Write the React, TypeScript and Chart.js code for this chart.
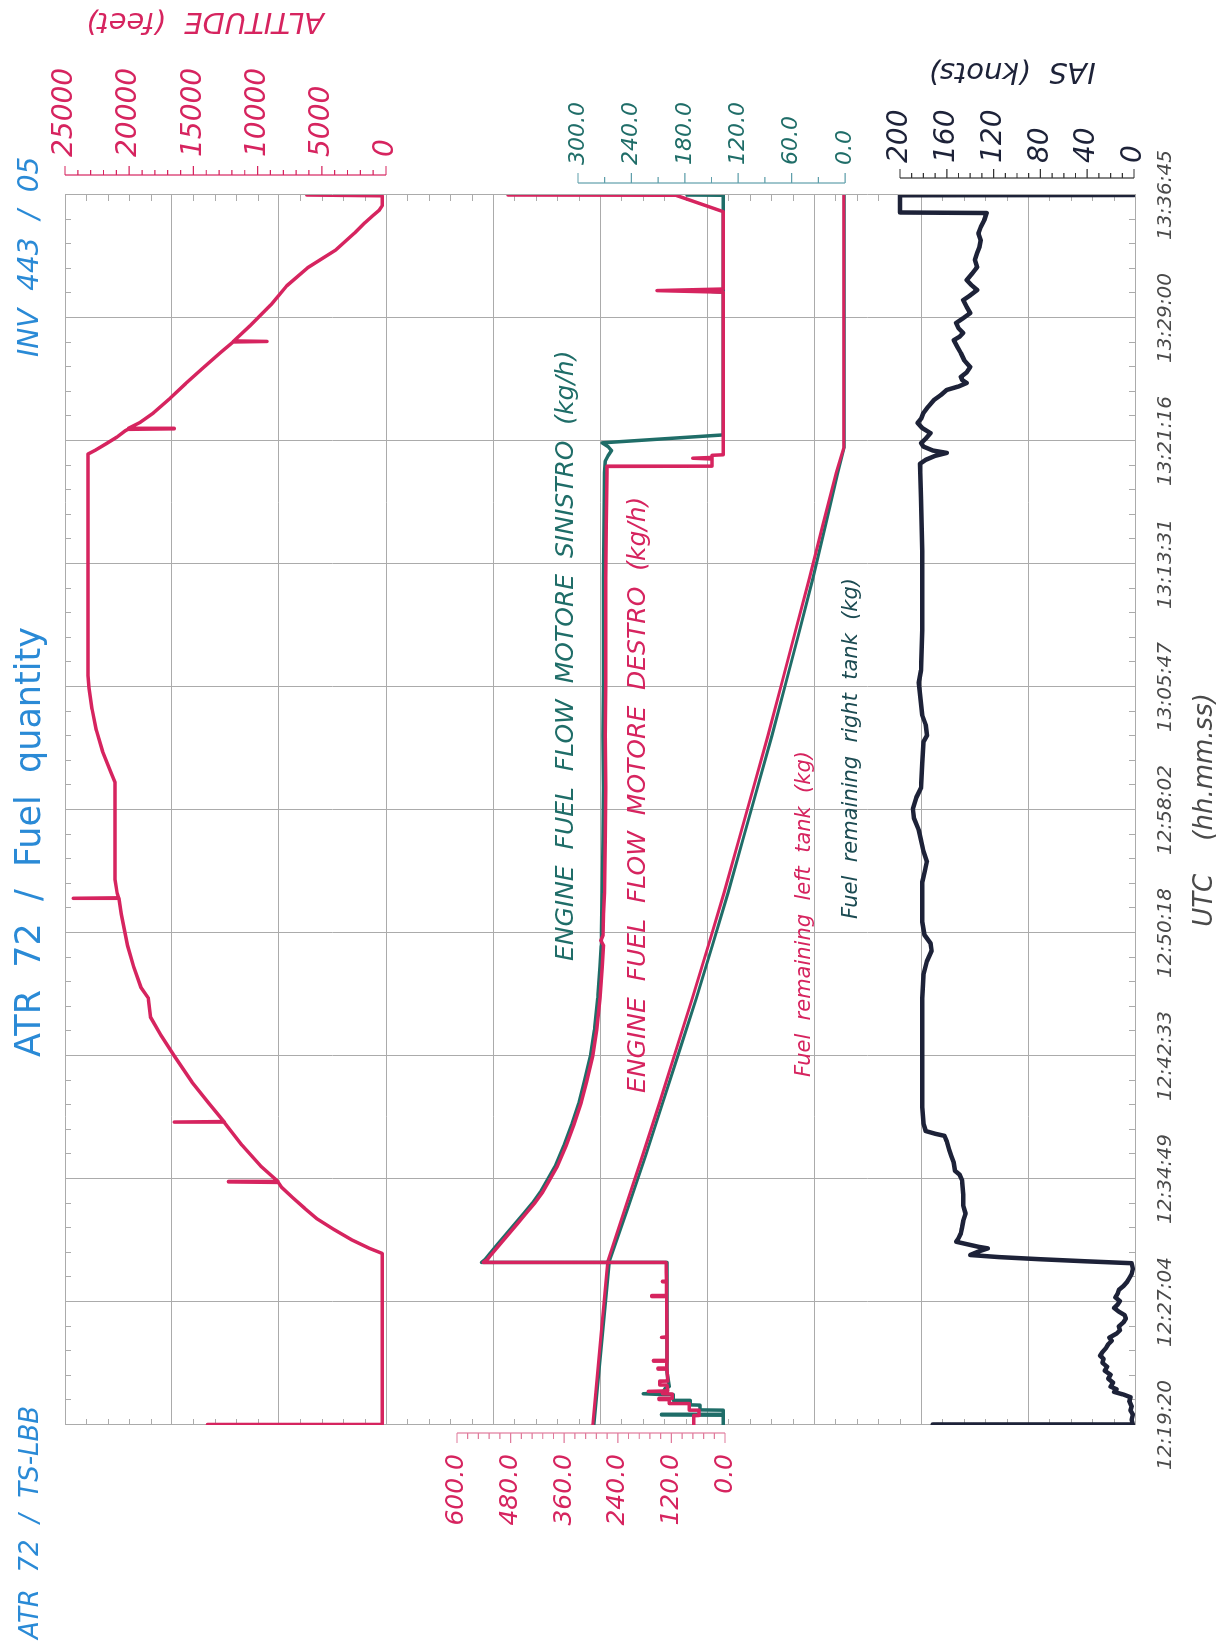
import React, { useEffect, useRef } from "react";
import { Chart, registerables } from "chart.js";

Chart.register(...registerables);

// ---------------- time axis (seconds after 12:19:20) ----------------
const TIME_LABELS = [
  "12:19:20", "12:27:04", "12:34:49", "12:42:33", "12:50:18", "12:58:02",
  "13:05:47", "13:13:31", "13:21:16", "13:29:00", "13:36:45",
];
const T_END = 4645;
const MINOR_PER_MAJOR = 5;

// ---------------- panel axis ticks ----------------
const ALT_TICKS = [0, 5000, 10000, 15000, 20000, 25000];
const ALT_MINOR = 1000;
const FF_TICKS = [0, 120, 240, 360, 480, 600];
const FF_MINOR = 24;
const FR_TICKS = [0, 60, 120, 180, 240, 300];
const FR_MINOR = 30;
const IAS_TICKS = [0, 40, 80, 120, 160, 200];
const IAS_MINOR = 10;

// ---------------- series: [seconds after 12:19:20, value] ----------------
const ALTITUDE_FT: [number, number][] = [
  [0, 13900], [2, 300], [648, 300], [668, 1330], [700, 2700], [739, 4080], [779, 5380],
  [819, 6350], [858, 7250], [898, 8140], [916, 8380], [918, 12270], [920, 8420],
  [978, 9760], [1057, 11220], [1142, 12580], [1144, 16490], [1146, 12620], [1216, 13810],
  [1295, 15110], [1394, 16490], [1473, 17540], [1541, 18350], [1612, 18510], [1652, 19080],
  [1731, 19650], [1811, 20130], [1930, 20620], [1987, 20800], [1989, 24350], [1991, 20820],
  [2009, 20940], [2060, 21100], [2426, 21100], [2465, 21430], [2545, 22080], [2624, 22560],
  [2703, 22890], [2783, 23130], [2830, 23200], [3667, 23200], [3683, 22570], [3707, 21750],
  [3731, 20950], [3755, 20300], [3760, 20100], [3762, 16490], [3764, 20050], [3786, 19160],
  [3822, 18110], [3874, 16890], [3933, 15600], [3993, 14220], [4052, 12840], [4090, 11900],
  [4092, 9270], [4094, 11850], [4152, 10570], [4231, 8950], [4302, 7730], [4370, 6110],
  [4437, 3920], [4501, 2460], [4540, 1650], [4568, 1000], [4588, 520], [4604, 300],
  [4642, 300], [4645, 6170],
];

const FF_DESTRO: [number, number][] = [
  [0, 70], [35, 70], [36, 58], [55, 58], [56, 80], [80, 80], [81, 125], [95, 125], [96, 148],
  [100, 148], [101, 118], [117, 118], [118, 140], [125, 140], [126, 172], [128, 172], [129, 128],
  [150, 130], [151, 146], [165, 146], [166, 128], [210, 130], [211, 150], [214, 150], [215, 131],
  [240, 130], [241, 160], [243, 160], [244, 130], [330, 130], [331, 142], [333, 130], [484, 131],
  [485, 164], [488, 164], [489, 131], [540, 131], [541, 140], [543, 131], [612, 132],
  [614, 541], [625, 532], [640, 525], [680, 505], [720, 485], [760, 465], [800, 445], [840, 425],
  [880, 408], [918, 395], [978, 375], [1057, 355], [1136, 338], [1216, 322], [1295, 310],
  [1394, 296], [1493, 287], [1612, 280], [1731, 275], [1811, 272], [1830, 278], [1850, 273],
  [1930, 272], [2009, 270], [2207, 268], [2406, 267], [2604, 268], [2803, 267], [3001, 267],
  [3199, 267], [3398, 266], [3596, 264], [3620, 264],
  [3621, 29], [3648, 29], [3651, 72], [3654, 29], [3662, 29], [3664, 4], [4278, 4], [4284, 152],
  [4290, 4], [4582, 4], [4644, 110], [4645, 486],
];

const FF_SINISTRO: [number, number][] = [
  [0, 4], [37, 4], [38, 142], [40, 142], [41, 4], [56, 4], [57, 56], [75, 56], [76, 78], [92, 78],
  [93, 116], [114, 116], [115, 140], [118, 183], [121, 140], [140, 133], [145, 125], [200, 130],
  [612, 130], [614, 545], [625, 537], [640, 530], [680, 510], [720, 490], [760, 470], [800, 450],
  [840, 430], [880, 413], [918, 400], [978, 380], [1057, 360], [1136, 343], [1216, 327],
  [1295, 315], [1394, 301], [1493, 292], [1612, 285], [1731, 280], [1811, 277], [1930, 276],
  [2009, 275], [2207, 273], [2406, 272], [2604, 273], [2803, 272], [3001, 272], [3199, 272],
  [3398, 271], [3596, 270], [3640, 268], [3660, 262], [3680, 254], [3695, 262], [3709, 275],
  [3739, 4], [4278, 4], [4281, 30], [4284, 4], [4644, 4], [4645, 85],
];

const FUEL_LEFT: [number, number][] = [
  [0, 283.5], [620, 266.5], [819, 247], [1017, 227.5], [1216, 208.5], [1414, 190], [1612, 171.5],
  [1811, 153.5], [2009, 136], [2207, 119.5], [2406, 103], [2604, 86.5], [2803, 71], [3001, 55.5],
  [3199, 40], [3398, 25], [3596, 10], [3690, 1.5], [4645, 1.5],
];

const FUEL_RIGHT: [number, number][] = [
  [0, 282], [620, 264.5], [819, 244], [1017, 224], [1216, 205], [1414, 186], [1612, 167],
  [1811, 149], [2009, 131.5], [2207, 115], [2406, 98.5], [2604, 82], [2803, 66.5], [3001, 51],
  [3199, 36], [3398, 22], [3596, 8], [3690, 1], [4645, 1],
];

const IAS_KT: [number, number][] = [
  [0, 172], [2, 1], [20, 2], [40, 1], [55, 3], [70, 2], [90, 4], [105, 3], [115, 9], [125, 17],
  [135, 15], [145, 20], [160, 18], [175, 22], [190, 20], [205, 25], [220, 23], [235, 27],
  [250, 26], [262, 29], [275, 27], [290, 24], [305, 22], [318, 19], [330, 21], [345, 15],
  [358, 12], [372, 13], [388, 9], [402, 7], [415, 8], [428, 13], [442, 17], [455, 14], [468, 12],
  [482, 16], [496, 14], [510, 13], [525, 9], [540, 6], [555, 4], [570, 2], [590, 1], [611, 2],
  [618, 40], [626, 80], [634, 115], [642, 140], [655, 133], [667, 125], [673, 133], [680, 140],
  [692, 152], [705, 150], [724, 148], [745, 147], [770, 146], [799, 144], [830, 146], [870, 146],
  [925, 147], [945, 149], [960, 153], [990, 154], [1015, 156], [1040, 158], [1070, 160],
  [1092, 162], [1100, 170], [1110, 178], [1140, 180], [1200, 181], [1400, 181], [1612, 181],
  [1700, 180], [1751, 177], [1791, 173], [1820, 174], [1850, 179], [1900, 181], [2050, 181],
  [2088, 179], [2128, 177], [2168, 180], [2247, 184], [2290, 188], [2327, 189], [2370, 186],
  [2406, 182], [2500, 181], [2580, 180], [2604, 177], [2644, 178], [2680, 181], [2760, 183],
  [2803, 184], [2850, 182], [3001, 181], [3300, 181], [3500, 182], [3630, 183],
  [3645, 178], [3660, 170], [3671, 160], [3680, 172], [3695, 180], [3708, 182], [3725, 178],
  [3746, 174], [3765, 181], [3784, 185], [3800, 182], [3822, 180], [3845, 176], [3871, 171],
  [3890, 165], [3909, 160], [3922, 150], [3935, 143], [3947, 147], [3958, 148], [3975, 143],
  [3995, 140], [4020, 145], [4048, 148], [4072, 151], [4097, 154], [4110, 149], [4124, 146],
  [4142, 150], [4162, 152], [4180, 146], [4199, 140], [4222, 143], [4248, 146], [4266, 140],
  [4286, 134], [4305, 139], [4324, 143], [4350, 138], [4373, 134], [4400, 136], [4426, 134],
  [4450, 132], [4475, 131], [4500, 133], [4524, 131], [4550, 128], [4577, 126], [4579, 200],
  [4644, 200], [4645, 0],
];

// ---------------- styling ----------------
const W = 1647;
const H = 1225;
const GRID = "#ababab";
const PINK = "#d6245f";
const TEAL = "#1f6d68";
const TEAL_DARK = "#1c4b52";
const NAVY = "#1d2238";
const BLUE = "#2a8ad6";
const GRAY_TXT = "#4a4a4a";
const FONT = '"DejaVu Sans", "Liberation Sans", sans-serif';

const PANEL_AXES = [
  { id: "yAlt", ticks: ALT_TICKS, minor: ALT_MINOR, side: "right", offset: 20, majorLen: 9, minorLen: 5, labelGap: 38, size: 28, color: PINK, lineColor: PINK, digits: 0 },
  { id: "yFR", ticks: FR_TICKS, minor: FR_MINOR, side: "right", offset: 12, majorLen: 10, minorLen: 6, labelGap: 30, size: 22, color: TEAL, lineColor: "#5f9fab", digits: 1 },
  { id: "yIAS", ticks: IAS_TICKS, minor: IAS_MINOR, side: "right", offset: 17, majorLen: 9, minorLen: 5, labelGap: 32, size: 28, color: NAVY, lineColor: "#333", digits: 0 },
  { id: "yFF", ticks: FF_TICKS, minor: FF_MINOR, side: "left", offset: 8, majorLen: 10, minorLen: 6, labelGap: 29, size: 25, color: PINK, lineColor: "#e07b9c", digits: 1 },
];

const AXIS_TITLES = [
  { text: "ALTITUDE  (feet)", u: 1626, v: 205, color: PINK, size: 29 },
  { text: "IAS  (knots)", u: 1576, v: 1012, color: NAVY, size: 29 },
];

const HEADER = [
  { text: "ATR  72  /  TS-LBB", u: 8, align: "left", italic: true, size: 26 },
  { text: "ATR  72  /  Fuel  quantity", u: 805, align: "center", italic: false, size: 35 },
  { text: "INV  443  /  05", u: 1290, align: "left", italic: true, size: 28 },
];

const NOTES = [
  { text: "ENGINE  FUEL  FLOW  MOTORE  SINISTRO  (kg/h)", t: 1752, axis: "yFF", value: 354, color: TEAL, size: 25 },
  { text: "ENGINE  FUEL  FLOW  MOTORE  DESTRO  (kg/h)", t: 1254, axis: "yFF", value: 193, color: PINK, size: 25 },
  { text: "Fuel  remaining  left  tank  (kg)", t: 1314, axis: "yFR", value: 46, color: PINK, size: 21 },
  { text: "Fuel  remaining  right  tank  (kg)", t: 1911, axis: "yFR", value: -7, color: TEAL_DARK, size: 21 },
];

const toXY = (arr: [number, number][]) => arr.map(([x, y]) => ({ x, y }));

const panelPlugin = {
  id: "panels",
  beforeDatasetsDraw(chart: any) {
    const { ctx, chartArea: a, scales } = chart;
    ctx.save();
    ctx.strokeStyle = GRID;
    ctx.lineWidth = 1;
    ctx.beginPath();
    const n = 10 * MINOR_PER_MAJOR;
    for (let i = 0; i <= n; i++) {
      if (i % MINOR_PER_MAJOR === 0) continue;
      const px = Math.round(scales.x.getPixelForValue((i * T_END) / n)) + 0.5;
      ctx.moveTo(px, a.top);
      ctx.lineTo(px, a.top + 6);
      ctx.moveTo(px, a.bottom);
      ctx.lineTo(px, a.bottom - 6);
    }
    for (let i = 0; i <= n; i++) {
      if (i % MINOR_PER_MAJOR === 0) continue;
      const py = Math.round(scales.yGrid.getPixelForValue(i / MINOR_PER_MAJOR)) + 0.5;
      ctx.moveTo(a.left, py);
      ctx.lineTo(a.left + 6, py);
      ctx.moveTo(a.right, py);
      ctx.lineTo(a.right - 6, py);
    }
    ctx.stroke();
    ctx.restore();
  },
  afterDraw(chart: any) {
    const { ctx, chartArea: a, scales } = chart;
    ctx.save();
    for (const ax of PANEL_AXES) {
      const s = scales[ax.id];
      const dir = ax.side === "right" ? 1 : -1;
      const base = ax.side === "right" ? a.right + ax.offset : a.left - ax.offset;
      const lo = ax.ticks[0];
      const hi = ax.ticks[ax.ticks.length - 1];
      ctx.strokeStyle = ax.lineColor;
      ctx.lineWidth = 1.2;
      ctx.beginPath();
      ctx.moveTo(base, s.getPixelForValue(lo));
      ctx.lineTo(base, s.getPixelForValue(hi));
      const count = Math.round((hi - lo) / ax.minor);
      for (let i = 0; i <= count; i++) {
        const val = lo + i * ax.minor;
        const isMajor = ax.ticks.some((t) => Math.abs(t - val) < 1e-6);
        const py = s.getPixelForValue(val);
        ctx.moveTo(base, py);
        ctx.lineTo(base + dir * (isMajor ? ax.majorLen : ax.minorLen), py);
      }
      ctx.stroke();
      ctx.fillStyle = ax.color;
      ctx.font = `italic ${ax.size}px ${FONT}`;
      ctx.textBaseline = "middle";
      ctx.textAlign = ax.side === "right" ? "left" : "right";
      const lx = ax.side === "right" ? a.right + ax.labelGap : a.left - ax.labelGap;
      for (const t of ax.ticks) {
        ctx.fillText(t.toFixed(ax.digits), lx, s.getPixelForValue(t));
      }
    }
    for (const t of AXIS_TITLES) {
      ctx.save();
      ctx.translate(t.u, t.v);
      ctx.rotate(-Math.PI / 2);
      ctx.fillStyle = t.color;
      ctx.font = `italic ${t.size}px ${FONT}`;
      ctx.textAlign = "center";
      ctx.textBaseline = "middle";
      ctx.fillText(t.text, 0, 0);
      ctx.restore();
    }
    ctx.fillStyle = BLUE;
    ctx.textBaseline = "middle";
    for (const h of HEADER) {
      ctx.font = `${h.italic ? "italic " : ""}${h.size}px ${FONT}`;
      ctx.textAlign = h.align as CanvasTextAlign;
      ctx.fillText(h.text, h.u, 31);
    }
    ctx.textAlign = "left";
    for (const nt of NOTES) {
      ctx.fillStyle = nt.color;
      ctx.font = `italic ${nt.size}px ${FONT}`;
      ctx.fillText(nt.text, scales.x.getPixelForValue(nt.t), scales[nt.axis].getPixelForValue(nt.value));
    }
    ctx.restore();
  },
};

export default function App() {
  const ref = useRef<HTMLCanvasElement>(null);

  useEffect(() => {
    const canvas = ref.current;
    if (!canvas) return;
    const line = (data: [number, number][], axis: string, color: string, width: number) => ({
      data: toXY(data),
      yAxisID: axis,
      borderColor: color,
      backgroundColor: color,
      borderWidth: width,
      pointRadius: 0,
      tension: 0,
      fill: false,
      borderJoinStyle: "round",
      borderCapStyle: "round",
    });
    const chart = new Chart(canvas, {
      type: "line",
      data: {
        datasets: [
          line(IAS_KT, "yIAS", NAVY, 4.5),
          line(ALTITUDE_FT, "yAlt", PINK, 3.5),
          line(FF_DESTRO, "yFF", PINK, 3.5),
          line(FF_SINISTRO, "yFF", TEAL, 3.5),
          line(FUEL_LEFT, "yFR", PINK, 3),
          line(FUEL_RIGHT, "yFR", TEAL, 3),
        ] as any,
      },
      options: {
        animation: false,
        responsive: false,
        devicePixelRatio: 1,
        layout: { padding: { left: 0, right: 195, top: 65, bottom: 0 } },
        plugins: { legend: { display: false }, tooltip: { enabled: false }, title: { display: false } },
        scales: {
          x: {
            type: "linear",
            position: "bottom",
            min: 0,
            max: T_END,
            afterBuildTicks: (s: any) => {
              const n = 10 * MINOR_PER_MAJOR;
              s.ticks = Array.from({ length: n + 1 }, (_, i) => ({ value: (i * T_END) / n }));
            },
            afterFit: (s: any) => {
              s.height = 90;
            },
            ticks: {
              autoSkip: false,
              maxRotation: 0,
              minRotation: 0,
              padding: 19,
              color: GRAY_TXT,
              font: { family: FONT, size: 20, style: "italic" },
              callback: (_v: any, i: number) => (i % MINOR_PER_MAJOR === 0 ? TIME_LABELS[i / MINOR_PER_MAJOR] : ""),
            },
            grid: {
              drawTicks: false,
              lineWidth: 1,
              color: (c: any) => (c.index % MINOR_PER_MAJOR === 0 ? GRID : "rgba(0,0,0,0)"),
            },
            border: { display: true, color: GRID },
            title: {
              display: true,
              text: "UTC    (hh.mm.ss)",
              color: GRAY_TXT,
              font: { family: FONT, size: 26, style: "italic" },
              padding: { top: 0, bottom: 4 },
            },
          },
          yGrid: {
            type: "linear",
            position: "left",
            min: 0,
            max: 10,
            afterFit: (s: any) => {
              s.width = 222;
            },
            ticks: { display: false, stepSize: 1 },
            grid: { drawTicks: false, color: GRID, lineWidth: 1 },
            border: { display: true, color: GRID },
          },
          yAlt: { type: "linear", display: false, min: -58333, max: 25000 },
          yFF: { type: "linear", display: false, min: -917.9, max: 1477.6 },
          yFR: { type: "linear", display: false, min: -325.8, max: 876.4 },
          yIAS: { type: "linear", display: false, min: -0.85, max: 913.7 },
        },
      } as any,
      plugins: [panelPlugin as any],
    });
    return () => chart.destroy();
  }, []);

  return (
    <div style={{ position: "absolute", left: 0, top: 0, width: H, height: W, overflow: "hidden", background: "#fff" }}>
      <div
        style={{
          position: "absolute",
          left: 0,
          top: 0,
          width: W,
          height: H,
          transformOrigin: "0 0",
          transform: `translate(0px, ${W}px) rotate(-90deg)`,
        }}
      >
        <canvas ref={ref} width={W} height={H} style={{ display: "block", width: W, height: H }} />
      </div>
    </div>
  );
}
